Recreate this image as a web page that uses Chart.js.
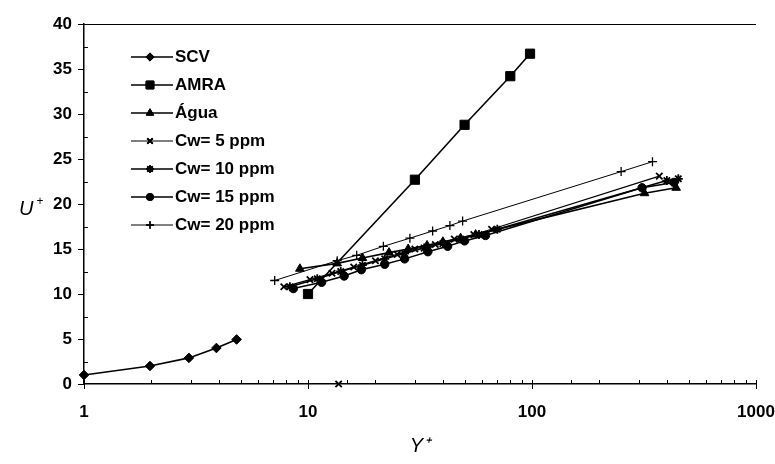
<!DOCTYPE html>
<html><head><meta charset="utf-8">
<script src="https://cdn.jsdelivr.net/npm/chart.js@4/dist/chart.umd.min.js"></script>
<style>html,body{margin:0;padding:0;background:#fff;}#wrap{position:relative;width:775px;height:464px;}</style>
</head><body><div id="wrap"><canvas id="c" width="775" height="464"></canvas></div>
<script>
// ---- data ----
const seriesNames = ['SCV', 'AMRA', 'Água', 'Cw= 5 ppm', 'Cw= 10 ppm', 'Cw= 15 ppm', 'Cw= 20 ppm'];
const scvX  = [1, 1.97, 2.94, 3.9, 4.8];
const scvY  = [1, 2, 2.9, 4, 4.95];
const amraX = [10, 30, 50, 80, 98];
const amraY = [10, 22.7, 28.8, 34.2, 36.7];
const aguaX = [9.2, 13.5, 17.5, 23, 28, 34, 40, 48, 56, 318, 440];
const aguaY = [12.8, 13.4, 14.0, 14.6, 15.0, 15.4, 15.8, 16.2, 16.6, 21.2, 21.8];
const cw5X  = [7.8, 10.2, 12.8, 16, 20, 25, 30, 37, 45, 55, 66, 370, 13.7, 13.7];
const cw5Y  = [10.8, 11.6, 12.3, 13.0, 13.7, 14.4, 15.0, 15.5, 16.1, 16.6, 17.2, 23.1, null, 0];
const cw10X = [8.3, 11, 14, 17.5, 22, 27, 33, 40, 48, 58, 70, 400, 450];
const cw10Y = [10.8, 11.7, 12.5, 13.2, 13.9, 14.5, 15.1, 15.6, 16.1, 16.6, 17.2, 22.6, 22.8];
const cw15X = [8.6, 11.5, 14.5, 17.3, 22, 27, 34.3, 42, 50, 62, 310, 430];
const cw15Y = [10.6, 11.3, 12.0, 12.7, 13.3, 13.9, 14.7, 15.3, 15.9, 16.5, 21.8, 22.4];
const cw20X = [7.1, 13.5, 16.5, 21.7, 28.5, 36, 43, 49, 250, 345];
const cw20Y = [11.5, 13.7, 14.3, 15.3, 16.2, 17.0, 17.6, 18.1, 23.6, 24.7];
const xTickLabels = [1, 10, 100, 1000];
const yTickStep = 5;
const xTitle = 'Y\u207A';
const yTitle = 'U';
const yTitleSup = '+';

// ---- styles ----
const FONT = "'Liberation Sans', Arial, sans-serif";
const styles = [
  {pointStyle: 'rectRot', radius: 4.8, bw: 1.6, pbw: 1, fill: true},
  {pointStyle: 'rect', radius: 6.5, bw: 1.6, pbw: 1, fill: true},
  {pointStyle: 'triangle', radius: 5, bw: 1.6, pbw: 1, fill: true},
  {pointStyle: 'crossRot', radius: 4.5, bw: 1.2, pbw: 1.8, fill: false},
  {pointStyle: 'star', radius: 4.5, bw: 1.5, pbw: 1.8, fill: false},
  {pointStyle: 'circle', radius: 4.2, bw: 1.5, pbw: 1, fill: true},
  {pointStyle: 'cross', radius: 4.5, bw: 1.0, pbw: 1.3, fill: false}
];
const xs = [scvX, amraX, aguaX, cw5X, cw10X, cw15X, cw20X];
const ys = [scvY, amraY, aguaY, cw5Y, cw10Y, cw15Y, cw20Y];

const datasets = seriesNames.map((name, i) => ({
  label: name,
  data: xs[i].map((x, k) => ({x: x, y: ys[i][k]})),
  showLine: true,
  spanGaps: false,
  borderColor: '#000',
  backgroundColor: '#000',
  borderWidth: styles[i].bw,
  pointStyle: styles[i].pointStyle,
  pointRadius: styles[i].radius,
  pointHoverRadius: styles[i].radius,
  pointBorderWidth: styles[i].pbw,
  pointBorderColor: '#000',
  pointBackgroundColor: styles[i].fill ? '#000' : 'rgba(0,0,0,0)',
  clip: false,
  tension: 0
}));

// legend sample images: a short line with the marker in the middle
function makeSample(st) {
  const cv = document.createElement('canvas');
  cv.width = 42; cv.height = 16;
  const c = cv.getContext('2d');
  c.strokeStyle = '#000'; c.fillStyle = '#000';
  c.lineWidth = st.bw;
  c.beginPath(); c.moveTo(0, 8); c.lineTo(42, 8); c.stroke();
  c.lineWidth = st.pbw;
  if (Chart.helpers && Chart.helpers.drawPoint) {
    c.fillStyle = st.fill ? '#000' : 'rgba(0,0,0,0)';
    Chart.helpers.drawPoint(c, {pointStyle: st.pointStyle, radius: st.radius * 0.85, rotation: 0, borderWidth: st.pbw}, 19, 8);
    if (st.fill) c.fill();
    c.stroke();
  }
  return cv;
}
const samples = styles.map(makeSample);

const LEG_LEFT = 126.5, LEG_TOP = 37.5;
const decor = {
  id: 'decor',
  beforeDraw(chart) {
    const lg = chart.legend;
    if (lg) {
      const w = lg.width, h = lg.height;
      lg.left = LEG_LEFT; lg.top = LEG_TOP; lg.right = LEG_LEFT + w; lg.bottom = LEG_TOP + h;
    }
  },
  afterDraw(chart) {
    const {ctx, chartArea: a} = chart;
    const x = chart.scales.x, y = chart.scales.y;
    ctx.save();
    ctx.strokeStyle = '#000'; ctx.lineWidth = 1;
    ctx.beginPath(); ctx.moveTo(a.left, a.top + 0.5); ctx.lineTo(a.right, a.top + 0.5); ctx.stroke();
    x.ticks.forEach(t => {
      const lg = Math.log10(t.value);
      const major = Math.abs(lg - Math.round(lg)) < 1e-9;
      const px = Math.round(x.getPixelForValue(t.value)) + 0.5;
      ctx.beginPath();
      ctx.moveTo(px, a.bottom - 4);
      ctx.lineTo(px, a.bottom + (major ? 5 : 0));
      ctx.stroke();
    });
    for (let v = yTickStep / 2; v < y.max; v += yTickStep) {
      const py = Math.round(y.getPixelForValue(v)) + 0.5;
      ctx.beginPath(); ctx.moveTo(a.left, py); ctx.lineTo(a.left + 4, py); ctx.stroke();
    }
    ctx.fillStyle = '#000';
    ctx.textBaseline = 'alphabetic';
    ctx.textAlign = 'left';
    ctx.font = 'italic 20px ' + FONT;
    ctx.fillText(yTitle, 19, 215);
    const uw = ctx.measureText(yTitle).width;
    ctx.font = '12px ' + FONT;
    ctx.fillText(yTitleSup, 19 + uw + 3, 205);
    ctx.restore();
  }
};

new Chart(document.getElementById('c'), {
  type: 'scatter',
  data: {datasets},
  plugins: [decor],
  options: {
    responsive: false,
    animation: false,
    devicePixelRatio: 1,
    layout: {padding: {left: 0, right: 19, top: 24, bottom: 0}},
    plugins: {
      tooltip: {enabled: false},
      legend: {
        position: 'chartArea',
        align: 'start',
        labels: {
          usePointStyle: true,
          pointStyleWidth: 29,
          padding: 11,
          color: '#000',
          font: {family: FONT, size: 17, weight: 'bold'},
          generateLabels: (chart) => chart.data.datasets.map((ds, i) => ({
            text: ds.label,
            fillStyle: '#000',
            strokeStyle: '#000',
            fontColor: '#000',
            lineWidth: 0,
            pointStyle: samples[i],
            hidden: false,
            datasetIndex: i
          }))
        }
      }
    },
    scales: {
      x: {
        type: 'logarithmic',
        min: 1, max: 1000,
        afterFit: (s) => { s.height = 80; s.paddingLeft = 0; s.paddingRight = 0; },
        grid: {display: false, drawTicks: false, drawOnChartArea: false},
        border: {display: true, color: '#000', width: 1.5},
        ticks: {
          autoSkip: false, maxRotation: 0, padding: 18, color: '#000',
          font: {family: FONT, size: 17, weight: 'bold'},
          callback: (v) => xTickLabels.includes(v) ? String(v) : ''
        },
        title: {display: true, text: xTitle, color: '#000', padding: {top: 0, bottom: 6},
          font: {family: FONT, size: 20, style: 'italic'}}
      },
      y: {
        min: 0, max: 40,
        afterFit: (s) => { s.width = 84; s.paddingTop = 0; s.paddingBottom = 0; },
        grid: {drawOnChartArea: false, drawTicks: true, tickLength: 6, color: '#000', lineWidth: 1},
        border: {display: true, color: '#000', width: 1.5},
        ticks: {stepSize: yTickStep, padding: 6, color: '#000',
          font: {family: FONT, size: 17, weight: 'bold'}}
      }
    }
  }
});
</script></body></html>
